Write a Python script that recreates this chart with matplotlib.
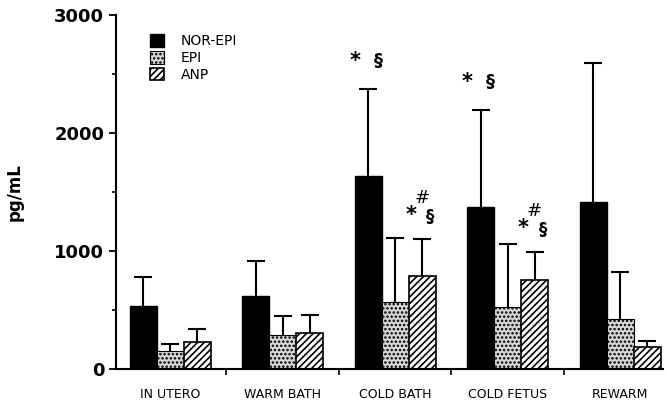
import matplotlib
matplotlib.use("Agg")
import matplotlib.pyplot as plt
import numpy as np
from matplotlib.ticker import MultipleLocator, FixedLocator, NullFormatter

groups = ["IN UTERO", "WARM BATH", "COLD BATH", "COLD FETUS", "REWARM"]
nor_epi = [534, 619, 1636, 1373, 1415]
nor_epi_err = [246, 296, 737, 822, 1178]
epi = [153, 288, 568, 525, 424]
epi_err = [59, 161, 542, 534, 398]
anp = [229, 305, 788, 754, 186]
anp_err = [110, 153, 314, 238, 51]

plt.rcParams["font.family"] = ["DejaVu Sans"]
plt.rcParams["hatch.linewidth"] = 1.2

fig = plt.figure(figsize=(6.67, 4.01), dpi=100)
ax = fig.add_axes([0.174, 0.08, 0.82, 0.883])

x = np.arange(len(groups))
w = 0.24
cap = 0.08


def bars_with_upper_err(pos, vals, errs, **kw):
    ax.bar(pos, vals, w, zorder=2, **kw)
    tops = np.array(vals) + np.array(errs)
    ax.vlines(pos, vals, tops, color="black", linewidth=1.5, zorder=1)
    ax.hlines(tops, pos - cap, pos + cap, color="black", linewidth=1.5, zorder=1)


bars_with_upper_err(x - w, nor_epi, nor_epi_err, color="black", edgecolor="black",
                    label="NOR-EPI")
bars_with_upper_err(x, epi, epi_err, color="#d8d8d8", edgecolor="black", hatch="....",
                    linewidth=0.8, label="EPI")
bars_with_upper_err(x + w, anp, anp_err, color="white", edgecolor="black", hatch="/////",
                    linewidth=1.2, label="ANP")

# significance markers
for gi, top, dx in [(2, 2373, 0.0), (3, 2195, 0.0)]:
    ax.text(gi - w - 0.12, top + 150, "*", ha="center", va="bottom", fontsize=15,
            fontweight="bold")
    ax.text(gi - w + 0.09, top + 160, "§", ha="center", va="bottom", fontsize=13,
            fontweight="bold")
for gi, top in [(2, 1102), (3, 992)]:
    ax.text(gi + w - 0.1, top + 120, "*", ha="center", va="bottom", fontsize=15,
            fontweight="bold")
    ax.text(gi + w + 0.0, top + 270, "#", ha="center", va="bottom", fontsize=13,
            fontstyle="italic")
    ax.text(gi + w + 0.07, top + 110, "§", ha="center", va="bottom", fontsize=12,
            fontweight="bold")

ax.set_xlim(-0.48, 4.38)
ax.set_ylim(0, 3000)
ax.spines["top"].set_visible(False)
ax.spines["right"].set_visible(False)
ax.spines["left"].set_linewidth(1.5)
ax.spines["bottom"].set_linewidth(1.5)

ax.yaxis.set_major_locator(MultipleLocator(1000))
ax.yaxis.set_minor_locator(MultipleLocator(500))
ax.tick_params(axis="y", which="major", length=5, width=1.3, labelsize=13)
ax.tick_params(axis="y", which="minor", length=3, width=1.2)
for lbl in ax.get_yticklabels():
    lbl.set_fontweight("bold")

ax.set_xticks(x)
ax.set_xticklabels(groups, fontsize=9)
ax.tick_params(axis="x", which="major", length=0, pad=14)
ax.xaxis.set_minor_locator(FixedLocator(x[:-1] + 0.5))
ax.xaxis.set_minor_formatter(NullFormatter())
ax.tick_params(axis="x", which="minor", length=4, width=1.2)

ax.set_ylabel("pg/mL", fontsize=12, fontweight="bold", labelpad=22)

ax.legend(loc="upper left", bbox_to_anchor=(0.04, 0.98), frameon=False, fontsize=10,
          handlelength=1.0, handleheight=1.0, handletextpad=1.2, labelspacing=0.2)

fig.savefig("out.png", dpi=100)
